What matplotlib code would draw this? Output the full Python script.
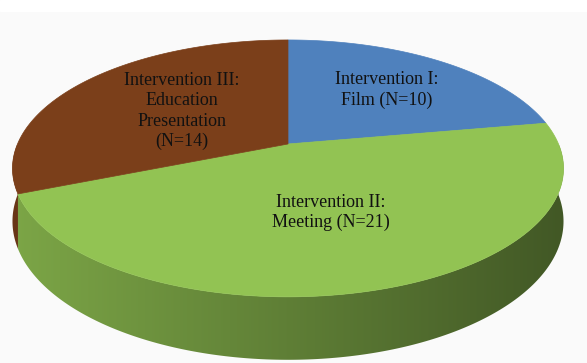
import numpy as np
import matplotlib.pyplot as plt
from matplotlib.colors import to_rgb
from matplotlib.patches import Polygon, Rectangle

# slice data, drawn clockwise from 12 o'clock
labels = ["Intervention I:\nFilm (N=10)",
          "Intervention II:\nMeeting (N=21)",
          "Intervention III:\nEducation\nPresentation\n(N=14)"]
counts = [10, 21, 14]
colors = ["#4f81bd", "#92c353", "#7b3f1a"]
label_radius = [0.62, 0.52, 0.5]

# projection of the tilted disc (pixel space)
CX, CY = 288, 144
A, B, K = 270.5, 123.8, 0.19
DEPTH = 51
W, H = 587, 363


def proj(theta, r=1.0, drop=0.0):
    """project a disc point (angle in degrees, radius) to pixel coords"""
    t = np.radians(theta)
    w = 1 + K * r * np.sin(t)
    x = CX + A * r * np.cos(t) / w
    y = CY - B * r * np.sin(t) / w + drop / w
    return x, y


fracs = np.array(counts) / sum(counts)
bounds = []
start = 90.0
for f in fracs:
    end = start - f * 360
    bounds.append((start, end))
    start = end

fig = plt.figure(figsize=(W / 100, H / 100), dpi=100)
fig.patch.set_facecolor("#fafafa")
ax = fig.add_axes([0, 0, 1, 1])
ax.set_xlim(0, W)
ax.set_ylim(H, 0)
ax.axis("off")
ax.add_patch(Rectangle((0, 0), W, 11, color="white", zorder=0))

# shading across the side wall: lighter on the left, darker on the right
xs_grid = np.arange(W) + 0.5
shade = 0.65 - 0.2 * (xs_grid - CX) / 276

# side wall of the front half (angles -180..0), back slices first
side_parts = []
for i, (a0, a1) in enumerate(bounds):
    for off in (0, -360):
        lo, hi = max(a1 + off, -180), min(a0 + off, 0)
        if hi > lo:
            side_parts.append((i, lo, hi))
side_parts.sort(key=lambda p: -abs((p[1] + p[2]) / 2 + 90))

for i, lo, hi in side_parts:
    ts = np.linspace(hi, lo, 200)
    tx, ty = proj(ts)
    bx, by = proj(ts[::-1], drop=DEPTH)
    pts = list(zip(tx, ty)) + list(zip(bx, by))
    poly = Polygon(pts, closed=True, facecolor="none", edgecolor="none")
    ax.add_patch(poly)
    base = np.array(to_rgb(colors[i]))
    grad = np.clip(shade[None, :, None] * base[None, None, :], 0, 1)
    grad = np.repeat(grad, 2, axis=0)
    im = ax.imshow(grad, extent=(0, W, H, 0), aspect="auto",
                   interpolation="bilinear", zorder=2)
    im.set_clip_path(poly)

ax.set_xlim(0, W)
ax.set_ylim(H, 0)

# top face wedges
for (a0, a1), col in zip(bounds, colors):
    ts = np.linspace(a0, a1, 200)
    xs, ys = proj(ts)
    pts = [(CX, CY)] + list(zip(xs, ys))
    ax.add_patch(Polygon(pts, closed=True, facecolor=col, edgecolor=col,
                         lw=0.5, zorder=3))

# slice labels
for (a0, a1), lab, r in zip(bounds, labels, label_radius):
    mid = (a0 + a1) / 2
    lx, ly = proj(mid, r=r)
    ax.text(lx, ly, lab, ha="center", va="center", fontsize=13,
            family="Liberation Serif", linespacing=1.25, color="#111111", zorder=4)

fig.savefig("out.png", dpi=100, facecolor=fig.get_facecolor())
